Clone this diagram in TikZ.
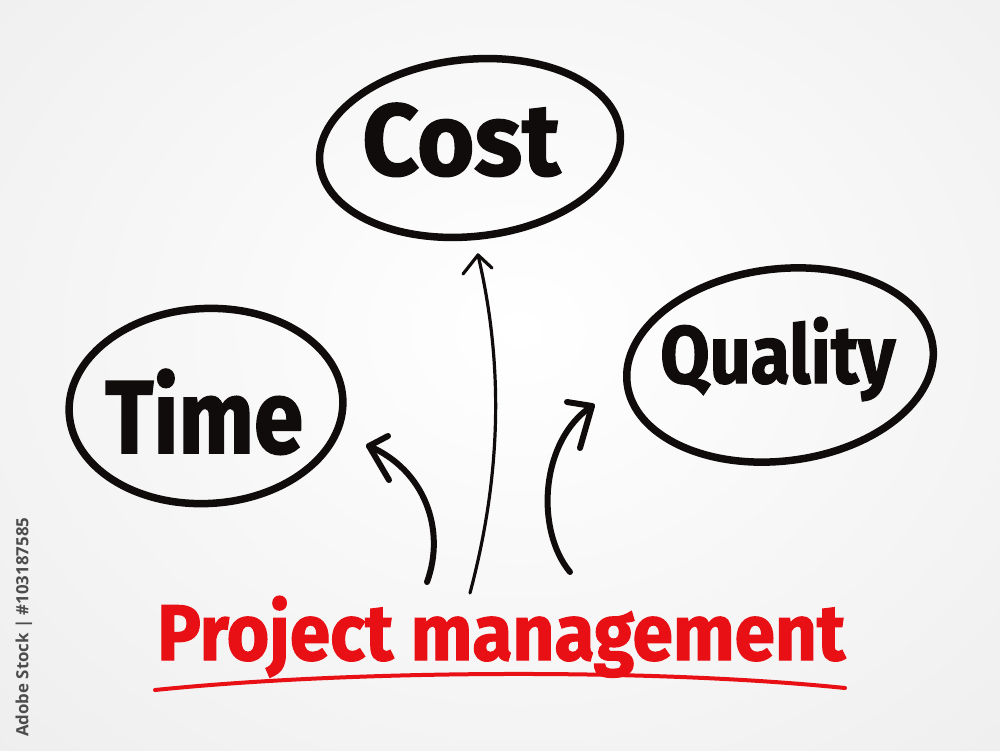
\documentclass[tikz,border=0pt]{standalone}
\usepackage{fontspec}
\setmainfont{Fira Sans}[BoldFeatures={FakeBold=1.5}]
\newfontfamily\idfont{Open Sans}
\usetikzlibrary{shapes.geometric}
\definecolor{pmred}{RGB}{232,16,20}
\definecolor{ink}{RGB}{16,12,12}
\begin{document}
\begin{tikzpicture}[x=1pt,y=-1pt,
  bubble/.style={draw=ink, line width=7.5pt, ellipse, inner sep=0pt},
  word/.style={anchor=base west, inner sep=0pt, text=ink, font=\bfseries},
  stroke/.style={draw=ink, line cap=round, line join=round},
  thickarrow/.style={stroke, line width=6pt},
  thinarrow/.style={stroke, line width=3.2pt},
  redline/.style={draw=pmred, line width=4pt, line cap=round}]
\useasboundingbox (0,0) rectangle (1000,750);
\fill[black!9] (0,0) rectangle (1000,750);
\shade[inner color=white, outer color=black!9] (520,330) ellipse [x radius=1000, y radius=820];

% bubbles
\node[bubble, minimum width=302pt, minimum height=177pt, rotate=6] (cost) at (470,148) {};
\node[bubble, minimum width=274pt, minimum height=195pt, rotate=3] (time) at (206,406) {};
\node[bubble, minimum width=308pt, minimum height=192pt, rotate=7] (quality) at (780,365) {};

% words
\node[word] (costtext) at (362,175) {\resizebox{198pt}{72pt}{Cost}};
\node[word] (timetext) at (105,453) {\resizebox{198pt}{84pt}{Time}};
\node[word] (qualtext) at (660,383) {\resizebox{235pt}{66pt}{Quality}};
\node[word, text=pmred] (pm) at (157,660) {\resizebox{688pt}{64pt}{Project management}};

% side id
\node[rotate=90, anchor=west, inner sep=0pt, font=\idfont\bfseries\fontsize{17}{17}\selectfont, text=black!70] (id) at (24,737) {\resizebox{219pt}{!}{Adobe Stock | \#103187585}};

% arrows
\coordinate (costfrom) at (470,593);
\coordinate (costtip) at (478,255);
\draw[thinarrow] (costfrom) .. controls (500,480) and (505,370) .. (costtip);
\draw[thinarrow] (costtip) ++(-15,19) -- (costtip) -- ++(14,13);

\coordinate (timefrom) at (427,582);
\coordinate (timetip) at (369,446);
\draw[thickarrow] (timefrom) .. controls (446,530) and (425,470) .. (timetip);
\draw[thickarrow] (timetip) ++(19,-10) -- (timetip) -- ++(20,34);

\coordinate (qualfrom) at (570,572);
\coordinate (qualtip) at (592,406);
\draw[thickarrow] (qualfrom) .. controls (535,530) and (540,440) .. (qualtip);
\draw[thickarrow] (qualtip) ++(-25,-4) -- (qualtip) -- ++(-12,42);

% underline
\coordinate (ulstart) at (155,690);
\coordinate (ulend) at (845,688);
\draw[redline] (ulstart) .. controls (350,670) and (650,668) .. (ulend);
\end{tikzpicture}
\end{document}
